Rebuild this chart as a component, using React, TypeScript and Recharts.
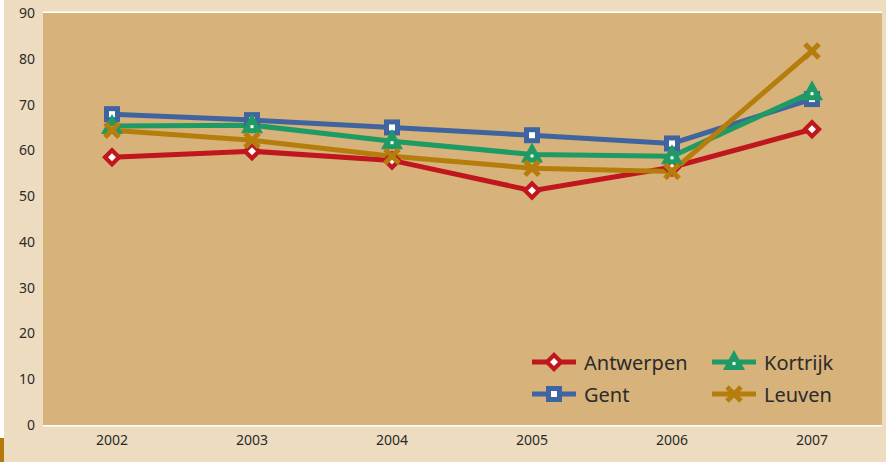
import React from "react";
import { LineChart, Line, XAxis, YAxis, CartesianGrid, Legend } from "recharts";

const years = ["2002", "2003", "2004", "2005", "2006", "2007"];
const antwerpen = [58.5, 59.8, 57.8, 51.2, 56.3, 64.6];
const gent = [67.9, 66.6, 65.0, 63.3, 61.5, 71.2];
const kortrijk = [65.3, 65.5, 62.0, 59.1, 58.7, 72.7];
const leuven = [64.4, 62.2, 58.7, 56.1, 55.4, 81.7];
const yTicks = [0, 10, 20, 30, 40, 50, 60, 70, 80, 90];

const data = years.map((year, i) => ({
  year,
  Antwerpen: antwerpen[i],
  Gent: gent[i],
  Kortrijk: kortrijk[i],
  Leuven: leuven[i],
}));

const COLORS = {
  Antwerpen: "#c0161e",
  Gent: "#3f64a0",
  Kortrijk: "#1e9a64",
  Leuven: "#b57e0c",
};

const FONT = "'Noto Sans', 'DejaVu Sans', sans-serif";
const TEXT = "#2b2b2b";

type Kind = "diamond" | "square" | "triangle" | "cross";

function Marker({ kind, cx, cy, color }: { kind: Kind; cx: number; cy: number; color: string }) {
  if (kind === "diamond") {
    return (
      <g>
        <polygon points={`${cx},${cy - 10} ${cx + 10},${cy} ${cx},${cy + 10} ${cx - 10},${cy}`} fill={color} />
        <polygon points={`${cx},${cy - 4} ${cx + 4},${cy} ${cx},${cy + 4} ${cx - 4},${cy}`} fill="#fff" />
      </g>
    );
  }
  if (kind === "square") {
    return (
      <g>
        <rect x={cx - 8} y={cy - 8} width={16} height={16} fill={color} />
        <rect x={cx - 3} y={cy - 3} width={6} height={6} fill="#fff" />
      </g>
    );
  }
  if (kind === "triangle") {
    return (
      <g>
        <polygon points={`${cx},${cy - 12} ${cx + 11},${cy + 8} ${cx - 11},${cy + 8}`} fill={color} />
        <rect x={cx - 1.5} y={cy} width={3} height={3} fill="#fff" />
      </g>
    );
  }
  return (
    <g stroke={color} strokeWidth={5}>
      <line x1={cx - 7} y1={cy - 7} x2={cx + 7} y2={cy + 7} />
      <line x1={cx - 7} y1={cy + 7} x2={cx + 7} y2={cy - 7} />
    </g>
  );
}

const series: { key: keyof typeof COLORS; kind: Kind }[] = [
  { key: "Antwerpen", kind: "diamond" },
  { key: "Gent", kind: "square" },
  { key: "Kortrijk", kind: "triangle" },
  { key: "Leuven", kind: "cross" },
];

const legendRows: { key: keyof typeof COLORS; kind: Kind }[][] = [
  [series[0], series[2]],
  [series[1], series[3]],
];

function LegendContent() {
  return (
    <div style={{ fontFamily: FONT, fontSize: 20, color: TEXT }}>
      {legendRows.map((row, r) => (
        <div key={r} style={{ display: "flex", height: 32, alignItems: "center" }}>
          {row.map((s) => (
            <div key={s.key} style={{ display: "flex", alignItems: "center", width: 193 }}>
              <svg width={44} height={26} style={{ display: "block" }}>
                <line x1={0} y1={13} x2={44} y2={13} stroke={COLORS[s.key]} strokeWidth={5} />
                <Marker kind={s.kind} cx={22} cy={13} color={COLORS[s.key]} />
              </svg>
              <span style={{ marginLeft: 8 }}>{s.key}</span>
            </div>
          ))}
        </div>
      ))}
    </div>
  );
}

export default function App() {
  return (
    <div style={{ position: "relative", width: 886, height: 462, background: "#fff" }}>
      <style>{"body{margin:0}"}</style>
      <div style={{ position: "absolute", left: 4, top: 0, width: 882, height: 462, background: "#eddcbf" }} />
      <div style={{ position: "absolute", left: 0, top: 438, width: 4, height: 24, background: "#b5780a" }} />
      <div style={{ position: "absolute", left: 0, top: 0 }}>
        <LineChart width={886} height={462} data={data} margin={{ top: 13, right: 4, bottom: 0, left: 0 }}>
          <rect x={43} y={13} width={839} height={412} fill="#d7b27a" />
          <CartesianGrid vertical={false} stroke="#fff" strokeWidth={3} />
          <XAxis
            dataKey="year"
            axisLine={false}
            tickLine={false}
            tickSize={0}
            tickMargin={10}
            height={37}
            padding={{ left: 69, right: 70 }}
            tick={{ fill: TEXT, fontSize: 14, fontFamily: FONT }}
          />
          <YAxis
            domain={[0, 90]}
            ticks={yTicks}
            axisLine={false}
            tickLine={false}
            tickSize={0}
            tickMargin={8}
            width={43}
            tick={{ fill: TEXT, fontSize: 14, fontFamily: FONT }}
          />
          <Legend
            content={<LegendContent />}
            wrapperStyle={{ position: "absolute", left: 532, top: 346, width: 360, height: 0, overflow: "visible", bottom: "auto" }}
          />
          {series.map((s) => (
            <Line
              key={s.key}
              dataKey={s.key}
              stroke={COLORS[s.key]}
              strokeWidth={5}
              isAnimationActive={false}
              dot={(p: any) => <Marker key={`${s.key}-${p.index}`} kind={s.kind} cx={p.cx} cy={p.cy} color={COLORS[s.key]} />}
              activeDot={false}
            />
          ))}
        </LineChart>
      </div>
    </div>
  );
}
